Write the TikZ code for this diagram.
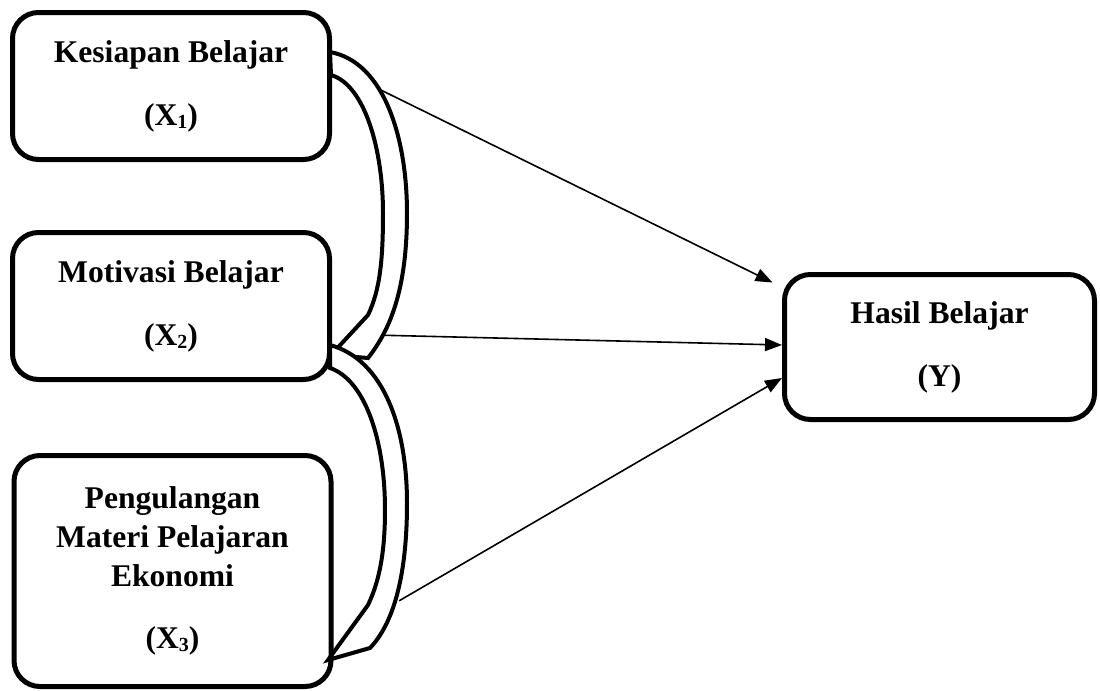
\documentclass[tikz,border=0pt]{standalone}
\usepackage{fontspec}
\setmainfont{Liberation Serif}
\usetikzlibrary{arrows.meta}

\newcommand{\subidx}[1]{\raisebox{-0.1em}{\fontsize{10}{10}\selectfont #1}}

\begin{document}
\begin{tikzpicture}[x=0.5pt,y=-0.5pt,
  var/.style={rectangle,draw,line width=2.5pt,rounded corners=13pt,align=center,inner sep=0pt,
    font=\fontsize{15.8}{19.5}\selectfont\bfseries,minimum width=158.5pt,minimum height=73.5pt},
  link/.style={-{Triangle[length=8.5pt,width=6.5pt]},line width=0.8pt},
  band/.style={draw,fill=white,line width=2pt,line join=miter}]
  \useasboundingbox (0,0) rectangle (1100,691);

  \node[var] (x1) at (171,86) {Kesiapan Belajar\\[12pt](X\subidx{1})};
  \node[var] (x2) at (171,306) {Motivasi Belajar\\[12pt](X\subidx{2})};
  \node[var,minimum height=115.5pt] (x3) at (172.5,571)
    {Pengulangan\\Materi Pelajaran\\Ekonomi\\[11.5pt](X\subidx{3})};
  \node[var,minimum width=155pt,minimum height=72.5pt] (yb) at (939.5,347)
    {Hasil Belajar\\[12pt](Y)};

  % curved double bands between the X boxes
  \path[band] (330,52) .. controls (385,62) and (407,140) .. (407,213)
    .. controls (407,290) and (390,330) .. (368,358)
    -- (331,355) -- (368,315)
    .. controls (380,290) and (383,260) .. (383,213)
    .. controls (383,150) and (365,85) .. (331,75) -- cycle;
  \path[band] (330,345) .. controls (385,360) and (407,430) .. (407,503)
    .. controls (407,580) and (392,625) .. (370,648)
    -- (328,660) -- (368,605)
    .. controls (380,580) and (385,550) .. (385,510)
    .. controls (385,440) and (365,380) .. (330,368) -- cycle;

  \draw[link,shorten <=27pt] ([yshift=10pt]x1.east) -- ([xshift=-4.75pt,yshift=-5.25pt]yb.north west);
  \draw[link,shorten <=26pt] ([yshift=-14pt]x2.east) -- ([yshift=1pt]yb.west);
  \draw[link,shorten <=38pt] ([yshift=-34pt]x3.east) -- ([yshift=-15.5pt]yb.west);
\end{tikzpicture}
\end{document}
